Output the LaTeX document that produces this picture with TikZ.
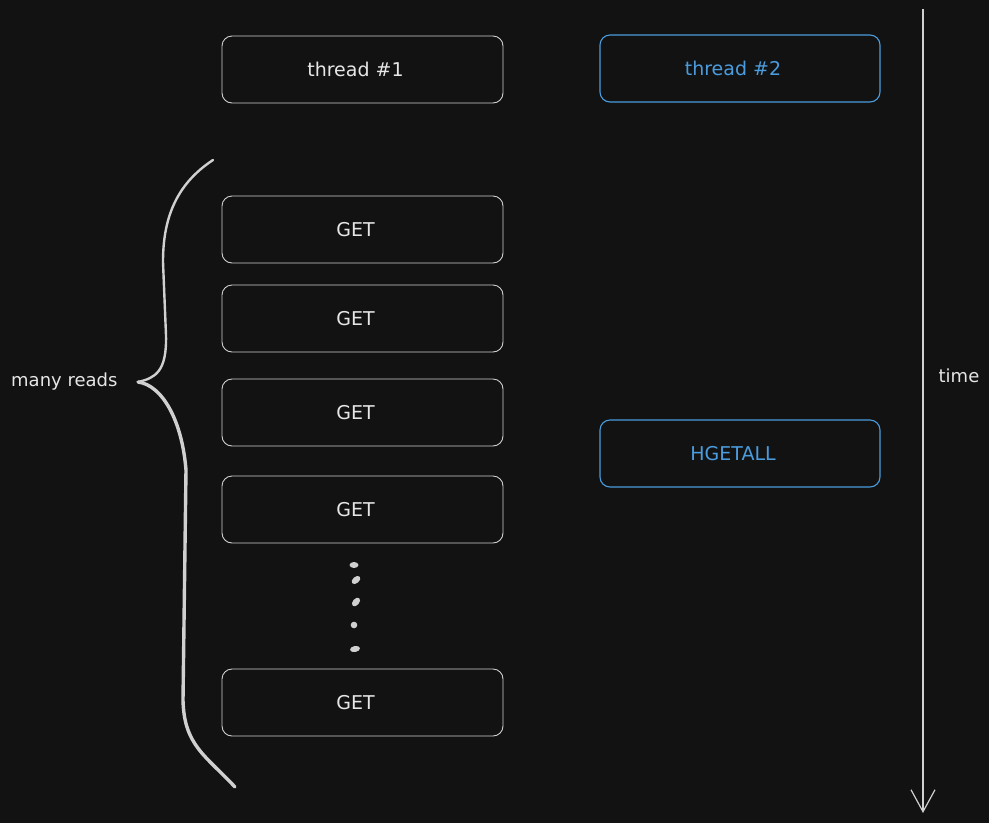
\documentclass[tikz,border=0pt]{standalone}
\usepackage{fontspec}
\setmainfont{DejaVu Sans}
\usetikzlibrary{arrows.meta}
\definecolor{bg}{HTML}{121212}
\definecolor{wline}{HTML}{D0D0D0}
\definecolor{wtext}{HTML}{E6E6E6}
\definecolor{bluec}{HTML}{4A9CDE}
\tikzset{
  boxw/.style={draw=wline, line width=0.9pt, rounded corners=10pt, fill=bg, text=wtext, font=\fontsize{19}{21}\selectfont, minimum width=281pt, minimum height=67pt, inner sep=0pt},
  boxb/.style={draw=bluec, line width=1.1pt, rounded corners=10pt, fill=bg, text=bluec, font=\fontsize{19}{21}\selectfont, minimum width=280pt, minimum height=67pt, inner sep=0pt},
  lbl/.style={text=wtext, font=\fontsize{18}{20}\selectfont},
}
\newcommand{\lsh}{\hspace*{14pt}}
\begin{document}
\begin{tikzpicture}[x=1pt,y=-1pt]
\fill[bg] (0,0) rectangle (989,823);
\useasboundingbox (0,0) rectangle (989,823);
\node[boxw] (t1) at (362.5,69.5) {thread \#1\lsh};
\node[boxb] (t2) at (740,68.5) {thread \#2\lsh};
\node[boxw] (g1) at (362.5,229.5) {GET\lsh};
\node[boxw] (g2) at (362.5,318.5) {GET\lsh};
\node[boxw] (g3) at (362.5,412.5) {GET\lsh};
\node[boxw] (g4) at (362.5,509.5) {GET\lsh};
\node[boxw] (g5) at (362.5,702.5) {GET\lsh};
\node[boxb] (hg) at (740,453.5) {HGETALL\lsh};
% dots
\fill[wline] (354,565) ellipse (4.5pt and 3pt);
\fill[wline, rotate around={40:(356,580)}] (356,580) ellipse (5pt and 3.2pt);
\fill[wline, rotate around={50:(356,602)}] (356,602) ellipse (5pt and 3.2pt);
\fill[wline] (354,625) circle (3.3pt);
\fill[wline, rotate around={10:(355,649)}] (355,649) ellipse (5pt and 3pt);
% brace
\coordinate (btop) at (213,160);
\coordinate (btip) at (138,382);
\coordinate (bbot) at (235,787);
\draw[wline, line width=2.4pt, line cap=round, line join=round]
  (btop) .. controls (175,185) and (163,220) .. (163,262) -- (166,335)
  .. controls (167,372) and (155,378) .. (btip);
\draw[wline, line width=3.4pt, line cap=round, line join=round]
  (btip) .. controls (162,385) and (182,420) .. (186,470) -- (183,700)
  .. controls (184,745) and (205,755) .. (bbot);
\node[lbl, anchor=east] (mr) at (121,382) {many reads};
% time arrow
\coordinate (ttop) at (923,9);
\coordinate (tbot) at (923,813);
\draw[wline, line width=1.2pt, -{Straight Barb[length=22pt, width=24pt, line width=1.2pt]}] (ttop) -- (tbot);
\node[lbl] (tm) at (959,376) {time};
\end{tikzpicture}
\end{document}
